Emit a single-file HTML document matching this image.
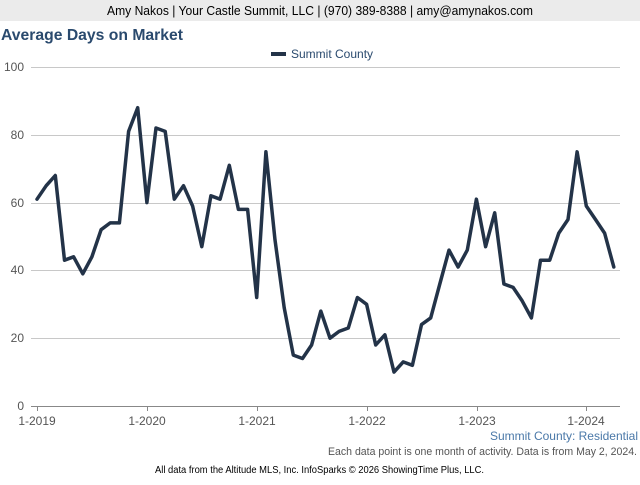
<!DOCTYPE html>
<html><head><meta charset="utf-8"><style>
body{margin:0;width:640px;height:480px;overflow:hidden;background:#fff;font-family:"Liberation Sans",sans-serif}
</style></head><body>
<svg width="640" height="480" xmlns="http://www.w3.org/2000/svg" font-family="Liberation Sans, sans-serif">
<rect x="0" y="0" width="640" height="21" fill="#ebebeb"/>
<text x="107" y="15" font-size="13" textLength="426" lengthAdjust="spacingAndGlyphs" fill="#000">Amy Nakos | Your Castle Summit, LLC | (970) 389-8388 | amy@amynakos.com</text>
<text x="1" y="40" font-size="16" font-weight="bold" fill="#2a4a6e" textLength="182" lengthAdjust="spacingAndGlyphs">Average Days on Market</text>
<rect x="271" y="52" width="15" height="4" fill="#233348"/>
<text x="291" y="58" font-size="12" fill="#2a4a6e">Summit County</text>
<g stroke="#c8c8c8" stroke-width="1">
<line x1="31" y1="67.5" x2="620" y2="67.5"/>
<line x1="31" y1="135.5" x2="620" y2="135.5"/>
<line x1="31" y1="203.5" x2="620" y2="203.5"/>
<line x1="31" y1="270.5" x2="620" y2="270.5"/>
<line x1="31" y1="338.5" x2="620" y2="338.5"/>
</g>
<line x1="31" y1="406.5" x2="620" y2="406.5" stroke="#888" stroke-width="1"/>
<g font-size="12" fill="#555" text-anchor="end">
<text x="24" y="71">100</text><text x="24" y="139">80</text><text x="24" y="207">60</text>
<text x="24" y="274">40</text><text x="24" y="342">20</text><text x="24" y="410">0</text>
</g>
<g stroke="#888"><line x1="37.5" y1="406" x2="37.5" y2="411"/><line x1="147.5" y1="406" x2="147.5" y2="411"/><line x1="257.5" y1="406" x2="257.5" y2="411"/><line x1="367.5" y1="406" x2="367.5" y2="411"/><line x1="477.5" y1="406" x2="477.5" y2="411"/><line x1="586.5" y1="406" x2="586.5" y2="411"/></g>
<g font-size="12" fill="#555" text-anchor="middle">
<text x="37" y="425">1-2019</text><text x="147" y="425">1-2020</text><text x="257" y="425">1-2021</text>
<text x="367" y="425">1-2022</text><text x="477" y="425">1-2023</text><text x="586" y="425">1-2024</text>
</g>
<polyline id="ln" fill="none" stroke="#233348" stroke-width="3.5" stroke-linejoin="round" stroke-linecap="round" points=""/>
<text x="638" y="440" font-size="12" fill="#4a78a8" text-anchor="end">Summit County: Residential</text>
<text x="328" y="455" font-size="11" fill="#555" textLength="309" lengthAdjust="spacingAndGlyphs">Each data point is one month of activity. Data is from May 2, 2024.</text>
<text x="155" y="473" font-size="10" fill="#000" textLength="329" lengthAdjust="spacingAndGlyphs">All data from the Altitude MLS, Inc. InfoSparks © 2026 ShowingTime Plus, LLC.</text>
</svg>
<script>
var d=[61,65,68,43,44,39,44,52,54,54,81,88,60,82,81,61,65,59,47,62,61,71,58,58,32,75,49,29,15,14,18,28,20,22,23,32,30,18,21,10,13,12,24,26,36,46,41,46,61,47,57,36,35,31,26,43,43,51,55,75,59,55,51,41];
var p=d.map(function(v,i){return (37+i*9.155).toFixed(1)+","+(406-v*3.39).toFixed(1)}).join(" ");
document.getElementById("ln").setAttribute("points",p);
</script>
</body></html>
